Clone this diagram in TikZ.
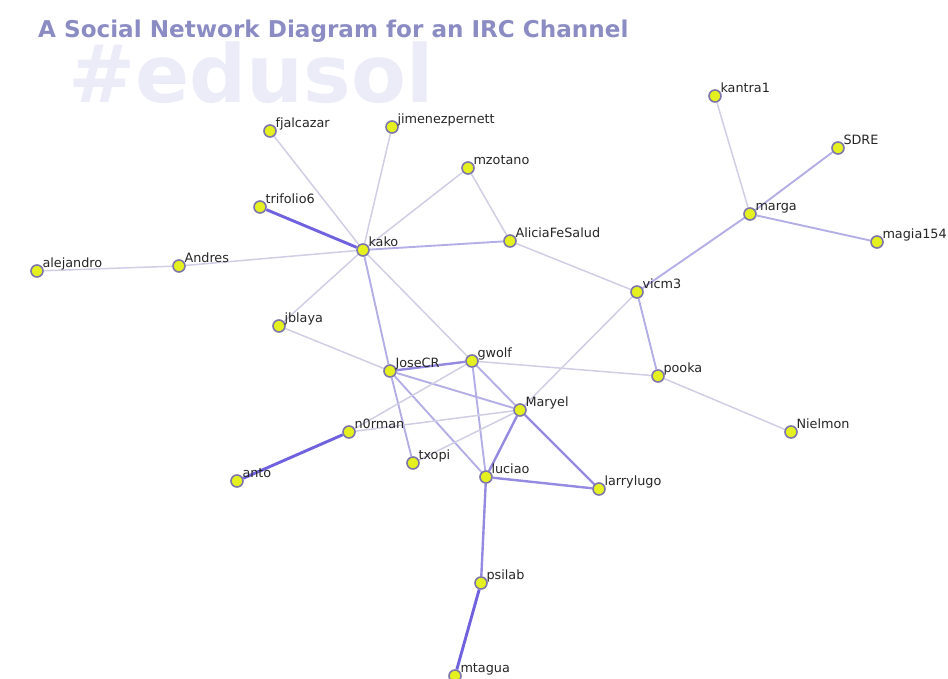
\documentclass[tikz,border=0pt]{standalone}
\usepackage{fontspec}
\setmainfont{DejaVu Sans}
\usetikzlibrary{backgrounds}
\definecolor{nodefill}{RGB}{228,240,32}
\definecolor{noderim}{RGB}{125,118,170}
\definecolor{tie1}{RGB}{208,206,228}
\definecolor{tie2}{RGB}{180,174,230}
\definecolor{tie3}{RGB}{148,138,225}
\definecolor{tie4}{RGB}{112,98,222}
\definecolor{titlecol}{RGB}{140,140,196}
\definecolor{markcol}{RGB}{236,236,248}
\tikzset{
  user/.style={circle, fill=nodefill, draw=noderim, line width=1.6pt,
    minimum size=12pt, inner sep=0pt},
  lbl/.style={anchor=base west, inner sep=0pt, yshift=3.5pt, xshift=-1.5pt,
    font=\fontsize{12.8}{14}\selectfont, text=black!85},
  weak/.style={draw=tie1, line width=1.5pt},
  fair/.style={draw=tie2, line width=1.9pt},
  firm/.style={draw=tie3, line width=2.4pt},
  tight/.style={draw=tie4, line width=2.9pt}
}
\begin{document}
\begin{tikzpicture}[x=1pt, y=-1pt]
\useasboundingbox (0,0) rectangle (948,679);

% channel watermark and heading
\node[anchor=base west, inner sep=0pt, text=markcol,
  font=\fontsize{80}{80}\bfseries\selectfont] (mark) at (68,103)
  {\raisebox{0pt}[\height][0pt]{\#edusol}};
\node[anchor=base west, inner sep=0pt, text=titlecol,
  font=\fontsize{23.1}{26}\bfseries\selectfont] (title) at (38,38)
  {A Social Network Diagram for an IRC Channel};

% participants
\node[user, label={[lbl]0:fjalcazar}] (fjalcazar) at (270,131) {};
\node[user, label={[lbl]0:jimenezpernett}] (jimenez) at (392,127) {};
\node[user, label={[lbl]0:mzotano}] (mzotano) at (468,168) {};
\node[user, label={[lbl]0:trifolio6}] (trifolio) at (260,207) {};
\node[user, label={[lbl]0:kako}] (kako) at (363,250) {};
\node[user, label={[lbl]0:AliciaFeSalud}] (alicia) at (510,241) {};
\node[user, label={[lbl]0:alejandro}] (alejandro) at (37,271) {};
\node[user, label={[lbl]0:Andres}] (andres) at (179,266) {};
\node[user, label={[lbl]0:jblaya}] (jblaya) at (279,326) {};
\node[user, label={[lbl]0:JoseCR}] (josecr) at (390,371) {};
\node[user, label={[lbl]0:gwolf}] (gwolf) at (472,361) {};
\node[user, label={[lbl]0:Maryel}] (maryel) at (520,410) {};
\node[user, label={[lbl]0:n0rman}] (norman) at (349,432) {};
\node[user, label={[lbl]0:anto}] (anto) at (237,481) {};
\node[user, label={[lbl]0:txopi}] (txopi) at (413,463) {};
\node[user, label={[lbl]0:luciao}] (luciao) at (486,477) {};
\node[user, label={[lbl]0:larrylugo}] (larrylugo) at (599,489) {};
\node[user, label={[lbl]0:psilab}] (psilab) at (481,583) {};
\node[user, label={[lbl]0:mtagua}] (mtagua) at (455,676) {};
\node[user, label={[lbl]0:kantra1}] (kantra) at (715,96) {};
\node[user, label={[lbl]0:SDRE}] (sdre) at (838,148) {};
\node[user, label={[lbl]0:marga}] (marga) at (750,214) {};
\node[user, label={[lbl]0:magia154}] (magia) at (877,242) {};
\node[user, label={[lbl]0:vicm3}] (vicm) at (637,292) {};
\node[user, label={[lbl]0:pooka}] (pooka) at (658,376) {};
\node[user, label={[lbl]0:Nielmon}] (nielmon) at (791,432) {};

% conversation ties, weighted by strength
\begin{scope}[on background layer]
  \draw[weak] (fjalcazar) -- (kako);
  \draw[weak] (jimenez) -- (kako);
  \draw[weak] (mzotano) -- (kako);
  \draw[weak] (mzotano) -- (alicia);
  \draw[tight] (trifolio) -- (kako);
  \draw[fair] (kako) -- (alicia);
  \draw[weak] (andres) -- (kako);
  \draw[weak] (alejandro) -- (andres);
  \draw[weak] (kako) -- (jblaya);
  \draw[fair] (kako) -- (josecr);
  \draw[weak] (kako) -- (gwolf);
  \draw[weak] (alicia) -- (vicm);
  \draw[weak] (jblaya) -- (josecr);
  \draw[firm] (josecr) -- (gwolf);
  \draw[fair] (josecr) -- (txopi);
  \draw[fair] (josecr) -- (luciao);
  \draw[fair] (josecr) -- (maryel);
  \draw[weak] (gwolf) -- (norman);
  \draw[fair] (gwolf) -- (luciao);
  \draw[fair] (gwolf) -- (maryel);
  \draw[weak] (gwolf) -- (pooka);
  \draw[weak] (norman) -- (maryel);
  \draw[tight] (norman) -- (anto);
  \draw[weak] (txopi) -- (maryel);
  \draw[firm] (maryel) -- (luciao);
  \draw[firm] (maryel) -- (larrylugo);
  \draw[weak] (maryel) -- (vicm);
  \draw[firm] (luciao) -- (larrylugo);
  \draw[firm] (luciao) -- (psilab);
  \draw[tight] (psilab) -- (mtagua);
  \draw[fair] (vicm) -- (marga);
  \draw[fair] (vicm) -- (pooka);
  \draw[weak] (pooka) -- (nielmon);
  \draw[weak] (marga) -- (kantra);
  \draw[fair] (marga) -- (sdre);
  \draw[fair] (marga) -- (magia);
\end{scope}
\end{tikzpicture}
\end{document}
